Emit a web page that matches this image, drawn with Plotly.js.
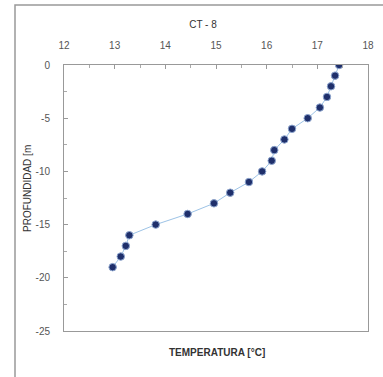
<!DOCTYPE html>
<html><head><meta charset="utf-8">
<script src="https://cdn.plot.ly/plotly-3.0.1.min.js"></script>
<style>html,body{margin:0;padding:0;background:#fff;}#chart{width:383px;height:377px;}</style>
</head><body><div id="chart"></div>
<script>
const depth = [0, -1, -2, -3, -4, -5, -6, -7, -8, -9, -10, -11, -12, -13, -14, -15, -16, -17, -18, -19];
const temperature = [17.43, 17.35, 17.27, 17.19, 17.05, 16.81, 16.50, 16.35, 16.15, 16.10, 15.91, 15.65, 15.28, 14.96, 14.44, 13.81, 13.29, 13.22, 13.12, 12.96];
const xTicks = [12, 13, 14, 15, 16, 17, 18];
const yTicks = [0, -5, -10, -15, -20, -25];

const trace = {
  x: temperature, y: depth, type: 'scatter', mode: 'lines+markers',
  line: {color: '#9dc3e6', width: 1},
  marker: {color: '#1f2f6b', size: 7.5, line: {color: '#8ea6cf', width: 1}},
  hoverinfo: 'none'
};
const font = {family: 'Liberation Sans, Arial, sans-serif', size: 10, color: '#444'};
const layout = {
  width: 383, height: 377,
  margin: {l: 64, r: 15, t: 65, b: 46},
  paper_bgcolor: '#fff', plot_bgcolor: '#fff',
  showlegend: false, font: font,
  title: {text: 'CT - 8', x: 203/383, xanchor: 'center', y: 1 - 24/377, yanchor: 'middle', font: {family: font.family, size: 10, color: '#333'}},
  xaxis: {
    range: [12, 18], side: 'top', tickvals: xTicks, ticktext: xTicks.map(String),
    showgrid: false, zeroline: false, showline: true, mirror: true, linecolor: '#999', linewidth: 1,
    ticks: 'inside', ticklen: 4, tickcolor: '#999', ticklabelstandoff: 11,
    minor: {dtick: 0.5, ticks: 'inside', ticklen: 3, tickcolor: '#aaa', showgrid: false},
    tickfont: {family: font.family, size: 10, color: '#555'},
    title: {text: ''}
  },
  yaxis: {
    range: [-25, 0], tickvals: yTicks, ticktext: yTicks.map(String),
    showgrid: false, zeroline: false, showline: true, mirror: true, linecolor: '#999', linewidth: 1,
    ticks: 'inside', ticklen: 4, tickcolor: '#999', ticklabelstandoff: 11,
    minor: {dtick: 2.5, ticks: 'inside', ticklen: 3, tickcolor: '#aaa', showgrid: false},
    tickfont: {family: font.family, size: 10, color: '#555'},
    title: {text: ''}
  },
  annotations: [{
    text: '<b>TEMPERATURA [°C]</b>', xref: 'paper', yref: 'paper',
    x: (217-64)/304, y: (331-352)/266, xanchor: 'center', yanchor: 'middle', showarrow: false,
    font: {family: font.family, size: 10, color: '#333'}
  }, {
    text: 'PROFUNDIDAD [m', xref: 'paper', yref: 'paper', textangle: -90,
    x: (27-64)/304, y: (331-189)/266, xanchor: 'center', yanchor: 'middle', showarrow: false,
    font: {family: font.family, size: 10, color: '#333'}
  }],
  shapes: [{
    type: 'rect', xref: 'paper', yref: 'paper',
    x0: (15-64)/304, x1: 1.2, y0: -0.3, y1: (331-5)/266,
    line: {color: '#999', width: 1.5}
  }]
};
Plotly.newPlot('chart', [trace], layout, {staticPlot: true, displayModeBar: false});
</script></body></html>
